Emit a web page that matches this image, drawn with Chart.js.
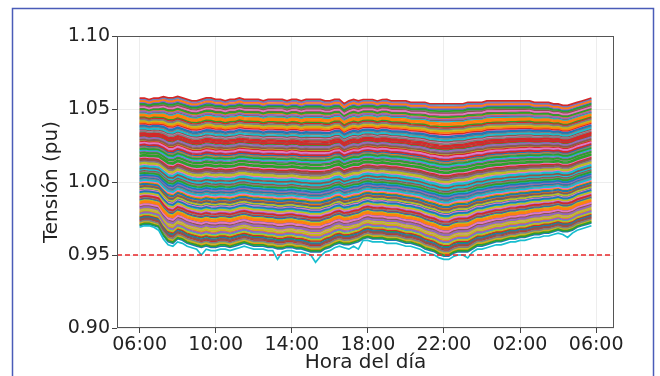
<!DOCTYPE html>
<html>
<head>
<meta charset="utf-8">
<script src="https://cdn.jsdelivr.net/npm/chart.js@4.4.1/dist/chart.umd.min.js"></script>
<style>
  html, body { margin: 0; padding: 0; background: #fff; }
  #perfiles { display: block; }
</style>
</head>
<body>
<canvas id="perfiles" width="660" height="376"></canvas>
<script>
// tick positions (hours after 06:00) and their labels
const posicionesHora = [0, 4, 8, 12, 16, 20, 24];
const etiquetasHora = ['06:00', '10:00', '14:00', '18:00', '22:00', '02:00', '06:00'];
const ticksTension = [0.90, 0.95, 1.00, 1.05, 1.10];
const limiteTension = 0.95;

// upper edge of the band, one value every 15 min from 06:00 to 05:45
const tensionMaxima = [
  1.057, 1.057, 1.056, 1.057, 1.057, 1.058, 1.057, 1.057,
  1.058, 1.057, 1.056, 1.055, 1.055, 1.056, 1.057, 1.057,
  1.056, 1.056, 1.055, 1.056, 1.056, 1.057, 1.056, 1.056,
  1.056, 1.056, 1.055, 1.056, 1.056, 1.056, 1.056, 1.055,
  1.056, 1.056, 1.055, 1.056, 1.056, 1.056, 1.056, 1.055,
  1.055, 1.056, 1.056, 1.053, 1.055, 1.056, 1.055, 1.056,
  1.056, 1.056, 1.055, 1.056, 1.056, 1.055, 1.055, 1.055,
  1.055, 1.054, 1.054, 1.054, 1.054, 1.053, 1.053, 1.053,
  1.053, 1.053, 1.053, 1.053, 1.053, 1.054, 1.054, 1.054,
  1.054, 1.055, 1.055, 1.055, 1.055, 1.055, 1.055, 1.055,
  1.055, 1.055, 1.055, 1.054, 1.054, 1.054, 1.054, 1.053,
  1.053, 1.052, 1.052, 1.053, 1.054, 1.055, 1.056, 1.057
];

// lower edge of the band
const tensionMinima = [
  0.969, 0.970, 0.970, 0.969, 0.968, 0.962, 0.958, 0.957,
  0.960, 0.959, 0.957, 0.956, 0.955, 0.954, 0.955, 0.954,
  0.954, 0.955, 0.955, 0.954, 0.955, 0.956, 0.957, 0.956,
  0.955, 0.955, 0.955, 0.954, 0.954, 0.953, 0.953, 0.954,
  0.954, 0.953, 0.953, 0.952, 0.951, 0.951, 0.951, 0.953,
  0.954, 0.956, 0.957, 0.956, 0.956, 0.957, 0.958, 0.960,
  0.961, 0.960, 0.960, 0.960, 0.959, 0.959, 0.959, 0.958,
  0.957, 0.957, 0.956, 0.955, 0.953, 0.952, 0.951, 0.949,
  0.948, 0.948, 0.950, 0.951, 0.951, 0.951, 0.953, 0.955,
  0.955, 0.956, 0.957, 0.958, 0.958, 0.959, 0.960, 0.960,
  0.961, 0.961, 0.962, 0.963, 0.963, 0.964, 0.964, 0.965,
  0.966, 0.965, 0.965, 0.966, 0.968, 0.969, 0.970, 0.971
];

// weakest node, with its short dips
const nodoCritico = [
  0.969, 0.970, 0.970, 0.969, 0.967, 0.961, 0.957, 0.956,
  0.959, 0.958, 0.956, 0.955, 0.954, 0.950, 0.954, 0.953,
  0.953, 0.954, 0.954, 0.953, 0.954, 0.955, 0.956, 0.955,
  0.954, 0.954, 0.954, 0.953, 0.953, 0.947, 0.952, 0.953,
  0.953, 0.952, 0.952, 0.951, 0.950, 0.945, 0.949, 0.952,
  0.953, 0.955, 0.956, 0.955, 0.954, 0.956, 0.954, 0.960,
  0.960, 0.959, 0.959, 0.959, 0.958, 0.958, 0.958, 0.957,
  0.956, 0.956, 0.955, 0.954, 0.952, 0.951, 0.950, 0.948,
  0.947, 0.947, 0.949, 0.950, 0.950, 0.948, 0.952, 0.954,
  0.954, 0.955, 0.956, 0.957, 0.957, 0.958, 0.959, 0.959,
  0.960, 0.960, 0.961, 0.962, 0.962, 0.963, 0.963, 0.964,
  0.965, 0.964, 0.962, 0.965, 0.967, 0.968, 0.969, 0.970
];

// voltage of each node at 06:00, in plotting order
const tensionInicial = [
  0.9700, 0.9714, 0.9756, 0.9882, 1.0260, 1.0505, 1.0351, 0.9889, 1.0281, 1.0568,
  1.0540, 1.0456, 1.0204, 1.0337, 0.9847, 1.0155, 1.0190, 1.0295, 0.9721, 0.9777,
  0.9945, 1.0449, 1.0183, 1.0274, 1.0547, 1.0477, 1.0267, 1.0526, 1.0414, 1.0078,
  0.9959, 1.0491, 1.0309, 0.9763, 0.9903, 1.0323, 0.9805, 1.0029, 0.9812, 1.0050,
  0.9875, 1.0239, 1.0442, 1.0162, 1.0211, 1.0358, 0.9910, 1.0344, 0.9868, 1.0218,
  1.0379, 0.9973, 1.0533, 1.0435, 1.0141, 1.0148, 1.0169, 1.0232, 1.0421, 1.0099,
  1.0022, 0.9791, 0.9987, 1.0575, 1.0561, 1.0519, 1.0393, 1.0015, 0.9770, 0.9924,
  1.0386, 0.9994, 0.9707, 0.9735, 0.9819, 1.0071, 0.9938, 1.0428, 1.0120, 1.0085,
  0.9980, 1.0554, 1.0498, 1.0330, 0.9826, 1.0092, 1.0001, 0.9728, 0.9798, 1.0008,
  0.9749, 0.9861, 1.0197, 1.0316, 0.9784, 0.9966, 1.0512, 1.0372, 0.9952, 1.0470,
  1.0246, 1.0463, 1.0225, 1.0400, 1.0036, 0.9833, 1.0113, 1.0064, 0.9917, 1.0365,
  0.9931, 1.0407, 1.0057, 0.9896, 1.0302, 0.9742, 0.9840, 1.0134, 1.0127, 1.0106,
  1.0043, 0.9854, 1.0176, 1.0253, 1.0484, 1.0288
];

// matplotlib default colour cycle
const tab10 = ['#1f77b4', '#ff7f0e', '#2ca02c', '#d62728', '#9467bd',
               '#8c564b', '#e377c2', '#7f7f7f', '#bcbd22', '#17becf'];

const paso = 0.25;       // 15 min samples
const xMin = -1.1875, xMax = 24.9375;

// each node sits at a fixed depth between the upper and lower edge
function perfilNodo(v0) {
  const f = (tensionMaxima[0] - v0) / (tensionMaxima[0] - tensionMinima[0]);
  return tensionMaxima.map((vmax, i) => ({
    x: i * paso,
    y: +(vmax - f * (vmax - tensionMinima[i])).toFixed(4)
  }));
}

const serie = (valores) => valores.map((v, i) => ({ x: i * paso, y: v }));

const nodos = tensionInicial.map((v0, k) => ({
  data: perfilNodo(v0),
  borderColor: tab10[k % 10],
  borderWidth: 1.7,
  pointRadius: 0,
  tension: 0,
  order: tensionInicial.length - k   // later nodes on top
}));

const critico = {
  data: serie(nodoCritico),
  borderColor: tab10[9],
  borderWidth: 1.7,
  pointRadius: 0,
  order: 0
};

const limite = {
  data: [{ x: xMin, y: limiteTension }, { x: xMax, y: limiteTension }],
  borderColor: '#e8262a',
  borderWidth: 1.3,
  borderDash: [5, 3],
  pointRadius: 0,
  order: -1
};

const fuente = 'DejaVu Sans';

// white background, blue outer frame and box round the axes
const marco = {
  id: 'marco',
  beforeDraw(chart) {
    const ctx = chart.ctx;
    ctx.save();
    ctx.fillStyle = '#fff';
    ctx.fillRect(0, 0, chart.width, chart.height);
    ctx.strokeStyle = '#4a5cb8';
    ctx.lineWidth = 1.5;
    ctx.strokeRect(12.5, 8.5, 641, 420);
    ctx.restore();
  },
  afterDraw(chart) {
    const { left, top, right, bottom } = chart.chartArea;
    const ctx = chart.ctx;
    ctx.save();
    ctx.strokeStyle = '#555';
    ctx.lineWidth = 1;
    ctx.strokeRect(left + 0.5, top + 0.5, right - left - 1, bottom - top - 1);
    ctx.restore();
  }
};

new Chart(document.getElementById('perfiles'), {
  type: 'line',
  data: { datasets: [limite, critico, ...nodos] },
  options: {
    responsive: false,
    animation: false,
    events: [],
    layout: { padding: { left: 0, top: 36, right: 46, bottom: 0 } },
    plugins: { legend: { display: false }, tooltip: { enabled: false } },
    scales: {
      x: {
        type: 'linear',
        min: xMin,
        max: xMax,
        afterBuildTicks: s => { s.ticks = posicionesHora.map(v => ({ value: v })); },
        afterFit: s => { s.height = 48; },
        ticks: {
          callback: (v) => etiquetasHora[posicionesHora.indexOf(v)],
          font: { family: fuente, size: 19 },
          color: '#222',
          padding: 1,
          maxRotation: 0,
          autoSkip: false
        },
        grid: { color: 'rgba(0,0,0,0.07)', tickLength: 5, tickColor: '#444' },
        border: { display: false },
        title: {
          display: true,
          text: 'Hora del día',
          font: { family: fuente, size: 20 },
          color: '#222',
          padding: { top: 0, bottom: 1 }
        }
      },
      y: {
        min: 0.90,
        max: 1.10,
        afterBuildTicks: s => { s.ticks = ticksTension.map(v => ({ value: v })); },
        afterFit: s => { s.width = 117; },
        ticks: {
          callback: v => v.toFixed(2),
          font: { family: fuente, size: 19 },
          color: '#222',
          padding: 2
        },
        grid: { color: 'rgba(0,0,0,0.07)', tickLength: 5, tickColor: '#444' },
        border: { display: false },
        title: {
          display: true,
          text: 'Tensión (pu)',
          font: { family: fuente, size: 20 },
          color: '#222',
          padding: { top: 40, bottom: 0 }
        }
      }
    }
  },
  plugins: [marco]
});
</script>
</body>
</html>
